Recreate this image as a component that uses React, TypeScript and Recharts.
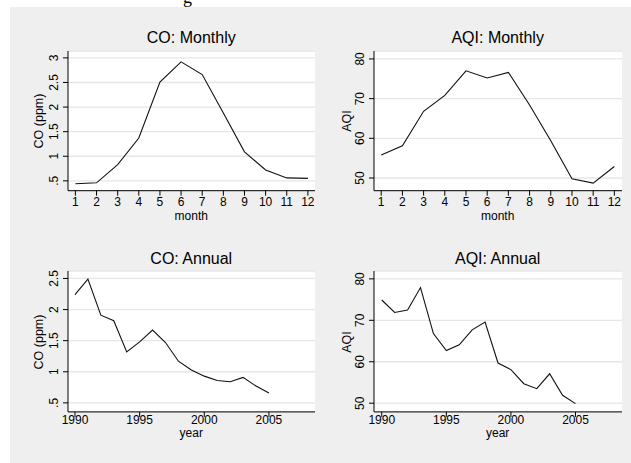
import React from 'react';
import { LineChart, Line, XAxis, YAxis, CartesianGrid } from 'recharts';

// monthly means
const months = [1, 2, 3, 4, 5, 6, 7, 8, 9, 10, 11, 12];
const coMonthly = [0.44, 0.46, 0.83, 1.37, 2.51, 2.92, 2.66, 1.88, 1.09, 0.72, 0.56, 0.55];
const aqiMonthly = [55.8, 58.1, 66.8, 70.8, 77.0, 75.2, 76.6, 68.4, 59.4, 49.8, 48.7, 52.9];

// annual means
const years = [1990, 1991, 1992, 1993, 1994, 1995, 1996, 1997, 1998, 1999, 2000, 2001, 2002, 2003, 2004, 2005];
const coAnnual = [2.24, 2.49, 1.91, 1.82, 1.32, 1.48, 1.67, 1.47, 1.17, 1.03, 0.93, 0.86, 0.84, 0.91, 0.77, 0.66];
const aqiAnnual = [74.9, 71.9, 72.5, 77.9, 66.8, 62.7, 64.1, 67.7, 69.6, 59.7, 58.1, 54.7, 53.5, 57.1, 51.9, 49.9];

// tick labels
const monthTicks = months;
const yearTicks = [1990, 1995, 2000, 2005];
const coMonthlyTicks = [0.5, 1, 1.5, 2, 2.5, 3];
const coAnnualTicks = [0.5, 1, 1.5, 2, 2.5];
const aqiTicks = [50, 60, 70, 80];

const FONT = '"Liberation Sans", Arial, Helvetica, sans-serif';
const BG = '#efefef';

// Stata-style: .5 without the leading zero
const fmtNum = (v: number) => {
  const s = String(v);
  return s.startsWith('0.') ? s.slice(1) : s;
};

const VTick = (props: any) => {
  const { x, y, payload } = props;
  return (
    <text
      x={x}
      y={y}
      transform={`rotate(-90, ${x}, ${y})`}
      textAnchor="middle"
      fontSize={12}
      fontFamily={FONT}
      fill="#000"
    >
      {fmtNum(payload.value)}
    </text>
  );
};

type PanelProps = {
  rect: [number, number, number, number];
  xs: number[];
  ys: number[];
  xDomain: [number, number];
  yDomain: [number, number];
  xTicks: number[];
  yTicks: number[];
  title: string;
  titleY: number;
  xTitle: string;
  xTitleBase: number;
  yTitle: string;
  yTitleX: number;
  xTickGap: number;
};

function Panel(p: PanelProps) {
  const [x0, y0, x1, y1] = p.rect;
  const yAxisW = 60;
  const top = 10;
  const xAxisH = 40;
  const data = p.xs.map((x, i) => ({ x, y: p.ys[i] }));
  return (
    <>
      <div
        style={{
          position: 'absolute',
          left: x0,
          width: x1 - x0,
          top: p.titleY - 8,
          lineHeight: '16px',
          fontSize: 16,
          textAlign: 'center',
          fontFamily: FONT,
          color: '#000',
        }}
      >
        {p.title}
      </div>
      {/* axis title, placed by its baseline with a tight line box */}
      <div
        style={{
          position: 'absolute',
          left: x0,
          width: x1 - x0,
          top: p.xTitleBase - 8.8,
          height: 9,
          lineHeight: '9px',
          fontSize: 12,
          textAlign: 'center',
          fontFamily: FONT,
          color: '#000',
        }}
      >
        {p.xTitle}
      </div>
      <div
        style={{
          position: 'absolute',
          left: p.yTitleX - 60,
          top: (y0 + y1) / 2 - 7,
          width: 120,
          lineHeight: '14px',
          fontSize: 12.5,
          textAlign: 'center',
          fontFamily: FONT,
          color: '#000',
          transform: 'rotate(-90deg)',
        }}
      >
        {p.yTitle}
      </div>
      <div style={{ position: 'absolute', left: x0 - yAxisW, top: y0 - top }}>
        <LineChart
          width={yAxisW + (x1 - x0)}
          height={top + (y1 - y0) + xAxisH}
          data={data}
          margin={{ top, right: 0, bottom: 0, left: 0 }}
        >
          <CartesianGrid
            vertical={false}
            stroke="#e6e6e6"
            strokeWidth={1.3}
            fill="#ffffff"
            fillOpacity={1}
          />
          <XAxis
            dataKey="x"
            type="number"
            domain={p.xDomain}
            ticks={p.xTicks}
            interval={0}
            allowDataOverflow
            height={xAxisH}
            axisLine={{ stroke: '#000', strokeWidth: 1 }}
            tickLine={{ stroke: '#000' }}
            tickSize={5}
            tickMargin={p.xTickGap}
            tick={{ fill: '#000', fontSize: 12, fontFamily: FONT }}
          />
          <YAxis
            type="number"
            domain={p.yDomain}
            ticks={p.yTicks}
            interval={0}
            allowDataOverflow
            width={yAxisW}
            axisLine={{ stroke: '#000', strokeWidth: 1 }}
            tickLine={{ stroke: '#000' }}
            tickSize={5}
            tickMargin={5}
            tick={<VTick />}
          />
          <Line
            dataKey="y"
            type="linear"
            stroke="#111"
            strokeWidth={1.1}
            dot={false}
            isAnimationActive={false}
          />
        </LineChart>
      </div>
    </>
  );
}

export default function App() {
  return (
    <div
      style={{
        position: 'absolute',
        left: 0,
        top: 0,
        width: 631,
        height: 463,
        background: '#fff',
        overflow: 'hidden',
      }}
    >
      {/* tail of a heading that sits above the cropped figure */}
      <div
        style={{
          position: 'absolute',
          left: 183,
          top: -12,
          fontSize: 18,
          lineHeight: '18px',
          fontFamily: '"Liberation Serif", serif',
        }}
      >
        g
      </div>
      <div style={{ position: 'absolute', left: 10, top: 7, right: 0, bottom: 0, background: BG }} />
      <Panel
        rect={[67.5, 51.3, 315, 191]}
        xs={months}
        ys={coMonthly}
        xDomain={[0.65, 12.36]}
        yDomain={[0.3, 3.14]}
        xTicks={monthTicks}
        yTicks={coMonthlyTicks}
        title="CO: Monthly"
        titleY={37.5}
        xTitle="month"
        xTitleBase={220.5}
        yTitle="CO (ppm)"
        yTitleX={38.5}
        xTickGap={2}
      />
      <Panel
        rect={[373.7, 51.3, 621.7, 191]}
        xs={months}
        ys={aqiMonthly}
        xDomain={[0.66, 12.36]}
        yDomain={[46.8, 82]}
        xTicks={monthTicks}
        yTicks={aqiTicks}
        title="AQI: Monthly"
        titleY={37.5}
        xTitle="month"
        xTitleBase={220.5}
        yTitle="AQI"
        yTitleX={346.5}
        xTickGap={2}
      />
      <Panel
        rect={[67.5, 271.4, 315, 412.3]}
        xs={years}
        ys={coAnnual}
        xDomain={[1989.46, 2008.6]}
        yDomain={[0.355, 2.62]}
        xTicks={yearTicks}
        yTicks={coAnnualTicks}
        title="CO: Annual"
        titleY={259}
        xTitle="year"
        xTitleBase={438}
        yTitle="CO (ppm)"
        yTitleX={38.5}
        xTickGap={-1}
      />
      <Panel
        rect={[373.7, 271.4, 621.7, 412.3]}
        xs={years}
        ys={aqiAnnual}
        xDomain={[1989.4, 2008.6]}
        yDomain={[47.9, 81.9]}
        xTicks={yearTicks}
        yTicks={aqiTicks}
        title="AQI: Annual"
        titleY={259}
        xTitle="year"
        xTitleBase={438}
        yTitle="AQI"
        yTitleX={346.5}
        xTickGap={-1}
      />
    </div>
  );
}
